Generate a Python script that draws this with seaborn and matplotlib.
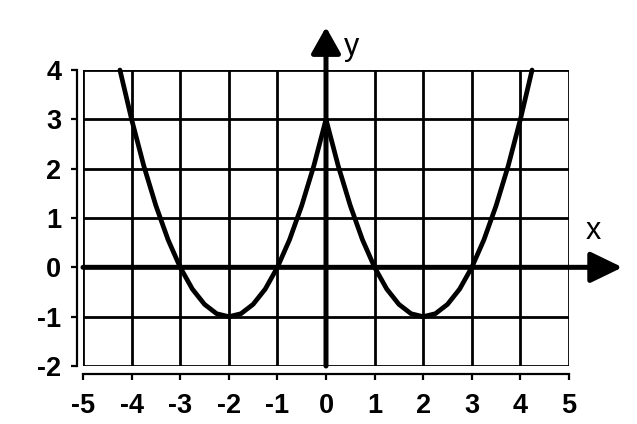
import matplotlib
matplotlib.use("Agg")
import matplotlib.pyplot as plt
import seaborn as sns
import pandas as pd

sns.set_theme(style="white")
plt.rcParams['font.family'] = ['Liberation Sans', 'DejaVu Sans']
plt.rcParams['font.weight'] = 'bold'

# values
x_vals = [-4.24, -4, -3.75, -3.5, -3.25, -3, -2.75, -2.5, -2.25, -2, -1.75, -1.5, -1.25, -1,
          -0.75, -0.5, -0.25, 0, 0.25, 0.5, 0.75, 1, 1.25, 1.5, 1.75, 2, 2.25, 2.5, 2.75, 3,
          3.25, 3.5, 3.75, 4, 4.24]
y_vals = [4, 3, 2.06, 1.25, 0.56, 0, -0.44, -0.75, -0.94, -1, -0.94, -0.75, -0.44, 0,
          0.56, 1.25, 2.06, 3, 2.06, 1.25, 0.56, 0, -0.44, -0.75, -0.94, -1, -0.94, -0.75, -0.44, 0,
          0.56, 1.25, 2.06, 3, 4]
x_ticks = [-5, -4, -3, -2, -1, 0, 1, 2, 3, 4, 5]
y_ticks = [-2, -1, 0, 1, 2, 3, 4]

df = pd.DataFrame({"x": x_vals, "y": y_vals})

fig = plt.figure(figsize=(6.37, 4.24), dpi=100)
ax = fig.add_axes([83/637, 58/424, 486/637, 296/424])

sns.lineplot(data=df, x="x", y="y", ax=ax, color='black', lw=3.4, estimator=None,
             sort=False, clip_on=False)

ax.set_xlim(-5, 5)
ax.set_ylim(-2, 4)
ax.set_xticks(x_ticks)
ax.set_yticks(y_ticks)
ax.set_xticklabels([str(v) for v in x_ticks])
ax.set_yticklabels([str(v) for v in y_ticks])

ax.grid(True, color='black', lw=2.0)
for gl in ax.get_xgridlines() + ax.get_ygridlines():
    gl.set_clip_on(False)
ax.set_axisbelow(True)

for s in ['top', 'right']:
    ax.spines[s].set_visible(False)
ax.spines['left'].set_position(('outward', 4))
ax.spines['bottom'].set_position(('outward', 6))
for s in ['left', 'bottom']:
    ax.spines[s].set_color('black')
    ax.spines[s].set_linewidth(1.6)

ax.tick_params(axis='both', which='both', direction='out', length=4.5, width=1.6,
               color='black', labelsize=19.5, labelcolor='black')
ax.tick_params(axis='y', pad=7, left=True)
ax.tick_params(axis='x', pad=9, bottom=True)

# main axes with arrows
ax.annotate('', xy=(6.1, 0), xytext=(-5, 0), annotation_clip=False,
            arrowprops=dict(arrowstyle='-|>,head_length=0.97,head_width=0.47',
                            lw=3.6, color='black', shrinkA=0, shrinkB=0, mutation_scale=20))
ax.annotate('', xy=(0, 4.87), xytext=(0, -2), annotation_clip=False,
            arrowprops=dict(arrowstyle='-|>,head_length=0.8,head_width=0.45',
                            lw=3.6, color='black', shrinkA=0, shrinkB=0, mutation_scale=20))

ax.text(5.5, 0.74, 'x', fontsize=22, fontweight='normal', color='black',
        ha='center', va='center', clip_on=False)
ax.text(0.53, 4.46, 'y', fontsize=22, fontweight='normal', color='black',
        ha='center', va='center', clip_on=False)

ax.set_xlabel('')
ax.set_ylabel('')

fig.savefig('out.png', dpi=100, facecolor='white')
